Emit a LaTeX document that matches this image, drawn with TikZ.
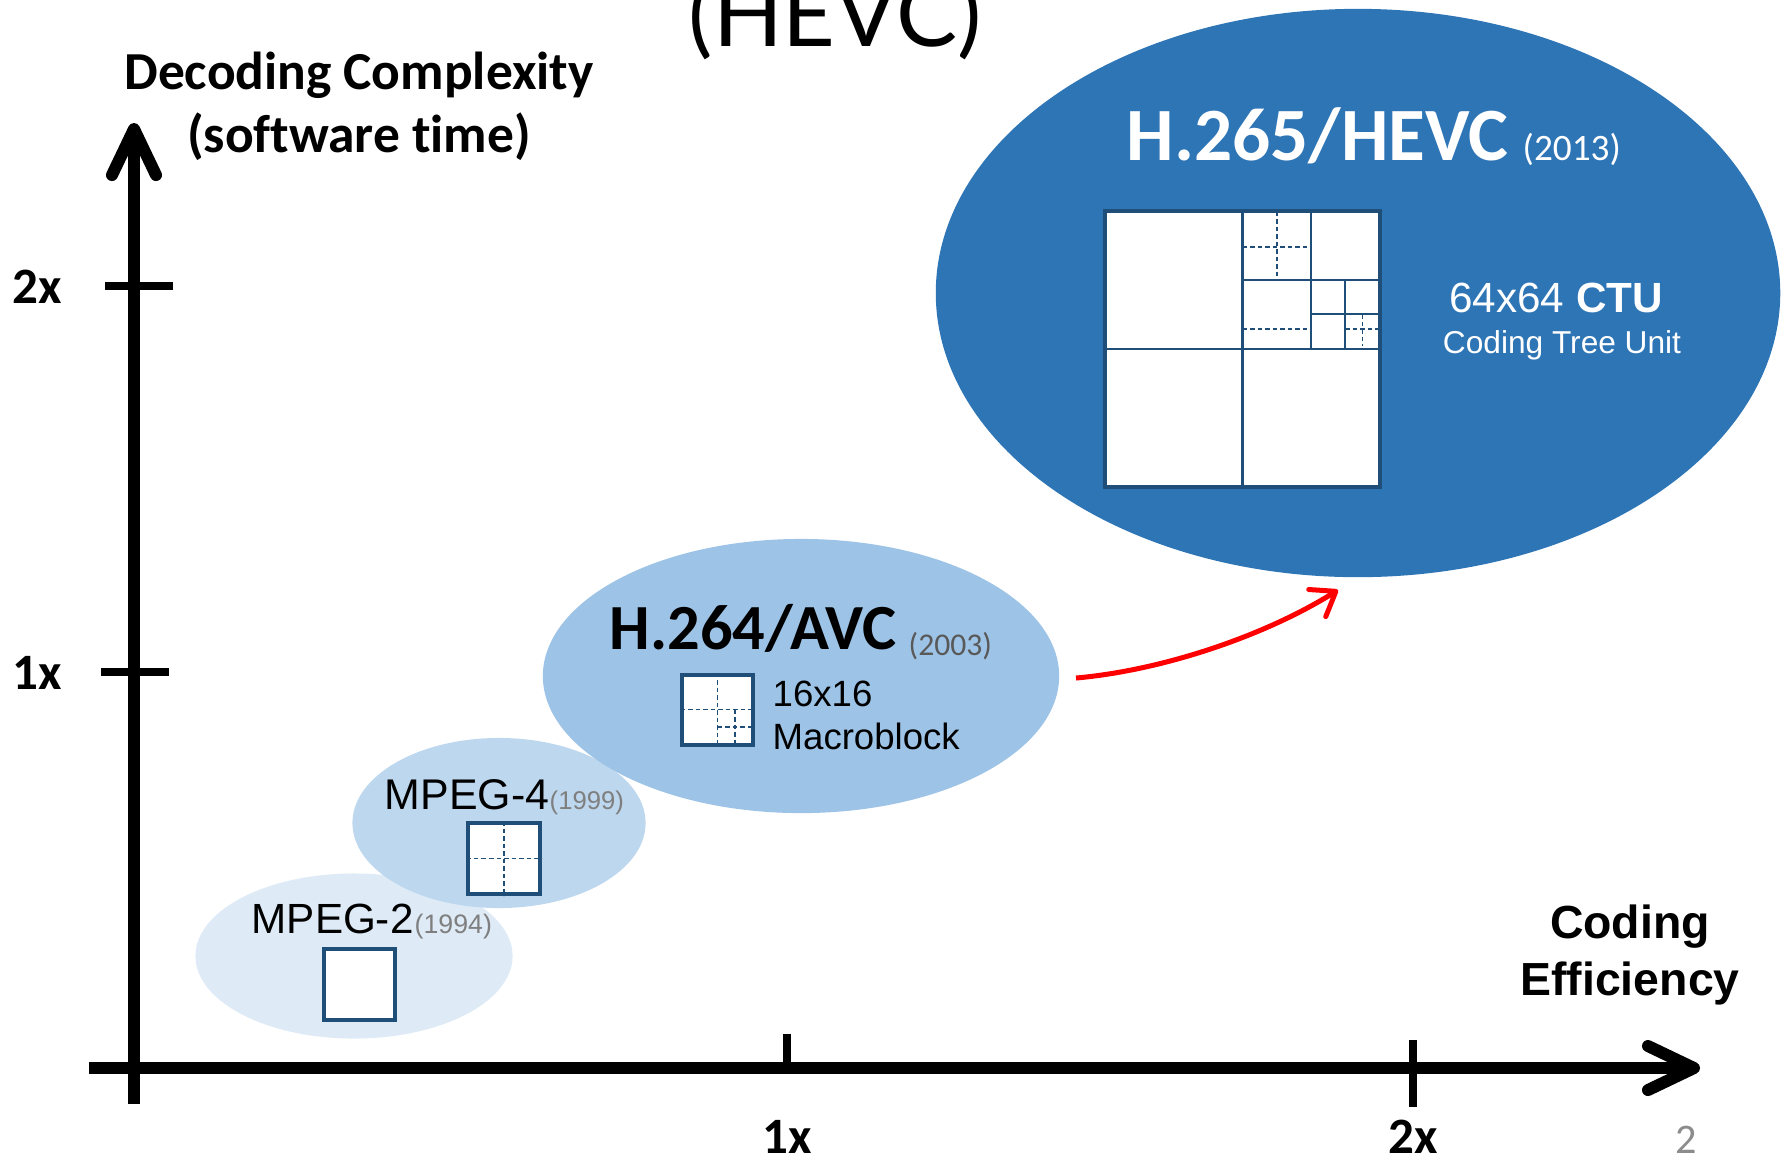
\documentclass[tikz,border=0pt]{standalone}
\usepackage{fontspec}
\setmainfont{Carlito}[Ligatures=NoCommon]
\newfontfamily\arialfont{Liberation Sans}[Ligatures=NoCommon]
\newfontfamily\titlefont{Lato}
\usetikzlibrary{arrows.meta,shapes.geometric}

\definecolor{mpegtwo}{HTML}{DEEBF7}
\definecolor{mpegfour}{HTML}{BDD7EE}
\definecolor{avcblue}{HTML}{9DC3E6}
\definecolor{hevcblue}{HTML}{2E75B6}
\definecolor{blkborder}{HTML}{1F4E79}
\definecolor{yeargray}{HTML}{7F7F7F}
\definecolor{avcgray}{HTML}{595959}
\definecolor{pagegray}{HTML}{8C8C8C}
\definecolor{arrowred}{HTML}{FF0000}

\newcommand{\setpt}[1]{\fontsize{#1}{#1}\selectfont}

\begin{document}
\begin{tikzpicture}[x=0.01cm, y=-0.01cm,
  axis/.style={line width=0.12cm, -{Straight Barb[length=0.46cm,width=0.44cm,round]}},
  tickmark/.style={line width=0.08cm},
  blob/.style={ellipse, draw=none, inner sep=0pt},
  blk/.style={rectangle, draw=blkborder, fill=white, line width=0.04cm, inner sep=0pt},
  split/.style={draw=blkborder, line width=0.022cm},
  subsplit/.style={draw=blkborder, line width=0.014cm, dash pattern=on 0.045cm off 0.03cm},
  lbl/.style={inner sep=0pt, anchor=base west},
  clbl/.style={inner sep=0pt, anchor=base},
  evolve/.style={draw=arrowred, line width=0.05cm, -{Straight Barb[length=0.22cm,width=0.32cm,round]}}
]
\useasboundingbox (0,0) rectangle (1789,1160);

% title line, partly above the page
\node[clbl] (title) at (835,46) {\titlefont\setpt{26pt}(HEVC)};

% codec generations
\node[blob, fill=mpegtwo,  minimum width=3.17cm, minimum height=1.65cm] (mp2)  at (354,956) {};
\node[blob, fill=mpegfour, minimum width=2.93cm, minimum height=1.70cm] (mp4)  at (499,823) {};
\node[blob, fill=avcblue,  minimum width=5.16cm, minimum height=2.74cm] (avc)  at (801,676) {};
\node[blob, fill=hevcblue, minimum width=8.44cm, minimum height=5.68cm] (hevc) at (1358,293) {};

% axes
\coordinate (ybot) at (134,1104);
\coordinate (ytop) at (134,123);
\coordinate (xleft) at (89,1068);
\coordinate (xright) at (1700,1068);
\draw[axis] (ybot) -- (ytop);
\draw[axis] (xleft) -- (xright);

% tick marks
\draw[tickmark] (105,286) -- (173,286);
\draw[tickmark] (101,672) -- (169,672);
\draw[tickmark] (787,1034) -- (787,1068);
\draw[tickmark] (1413,1040) -- (1413,1107);

% tick labels
\node[clbl] (ytwo) at (37,303) {\bfseries\setpt{14.5pt}2x};
\node[clbl] (yone) at (37,689) {\bfseries\setpt{14.5pt}1x};
\node[clbl] (xone) at (787,1153) {\bfseries\setpt{14.5pt}1x};
\node[clbl] (xtwo) at (1413,1153) {\bfseries\setpt{14.5pt}2x};

% axis titles
\node[clbl] (ylabA) at (359,89) {\bfseries\setpt{15.2pt}Decoding Complexity};
\node[clbl] (ylabB) at (359,152) {\bfseries\setpt{15.2pt}(software time)};
\node[clbl] (xlabA) at (1630,938) {\arialfont\bfseries\setpt{13.2pt}Coding};
\node[clbl] (xlabB) at (1630,995) {\arialfont\bfseries\setpt{13.2pt}Efficiency};

% MPEG-2: single block
\node[lbl] (mp2name) at (251,933) {\arialfont\setpt{12pt}MPEG-2};
\node[lbl] (mp2year) at (414,933) {\arialfont\color{yeargray}\setpt{7.6pt}(1994)};
\node[blk, minimum size=0.71cm] (mp2blk) at (359.5,984.5) {};

% MPEG-4: block split in four
\node[lbl] (mp4name) at (384,809) {\arialfont\setpt{12.2pt}MPEG-4};
\node[lbl] (mp4year) at (549,809) {\arialfont\color{yeargray}\setpt{7.3pt}(1999)};
\node[blk, minimum size=0.71cm] (mp4blk) at (504,858.5) {};
\draw[subsplit] (mp4blk.north) -- (mp4blk.south);
\draw[subsplit] (mp4blk.west) -- (mp4blk.east);

% H.264/AVC: macroblock
\node[lbl] (avcname) at (609,649) {\bfseries\setpt{18.3pt}H.264/AVC};
\node[lbl] (avcyear) at (908,655) {\color{avcgray}\setpt{9pt}(2003)};
\node[blk, minimum size=0.70cm] (mb) at (717.5,709.5) {};
\draw[subsplit] (mb.north) -- (mb.south);
\draw[subsplit] (mb.west) -- (mb.east);
\draw[subsplit] (735,709.5) -- (735,745);
\draw[subsplit] (717.5,727) -- (752.5,727);
\node[lbl] (mbA) at (772,706) {\arialfont\setpt{10.4pt}16x16};
\node[lbl] (mbB) at (772,749) {\arialfont\setpt{10.4pt}Macroblock};

% H.265/HEVC: coding tree unit
\node[lbl, text=white] (hevcname) at (1126,160) {\bfseries\setpt{21.4pt}H.265/HEVC};
\node[lbl, text=white] (hevcyear) at (1522,160) {\setpt{10.6pt}(2013)};
\node[blk, minimum size=2.75cm] (ctu) at (1242.5,349) {};
\draw[split] (ctu.north) -- (ctu.south);
\draw[split] (ctu.west) -- (ctu.east);
\draw[split] (1311,211.5) -- (1311,349);
\draw[split] (1242.5,280) -- (1380,280);
\draw[split] (1345,280) -- (1345,349);
\draw[split] (1311,314) -- (1380,314);
\draw[subsplit] (1277,211.5) -- (1277,280);
\draw[subsplit] (1242.5,247) -- (1311,247);
\draw[subsplit] (1242.5,329) -- (1311,329);
\draw[subsplit] (1362.5,314) -- (1362.5,346);
\draw[subsplit] (1345,329) -- (1380,329);
\node[clbl, text=white] (ctuA) at (1556,312) {\arialfont\setpt{12pt}64x64 \textbf{CTU}};
\node[clbl, text=white] (ctuB) at (1562,353) {\arialfont\setpt{9pt}Coding Tree Unit};

% progression arrow
\coordinate (evoS) at (1076,678);
\coordinate (evoE) at (1338,590);
\draw[evolve] (evoS) .. controls (1166,670) and (1268,634) .. (evoE);

% page number
\node[clbl, text=pagegray] (page) at (1686,1153) {\setpt{12pt}2};
\end{tikzpicture}
\end{document}
